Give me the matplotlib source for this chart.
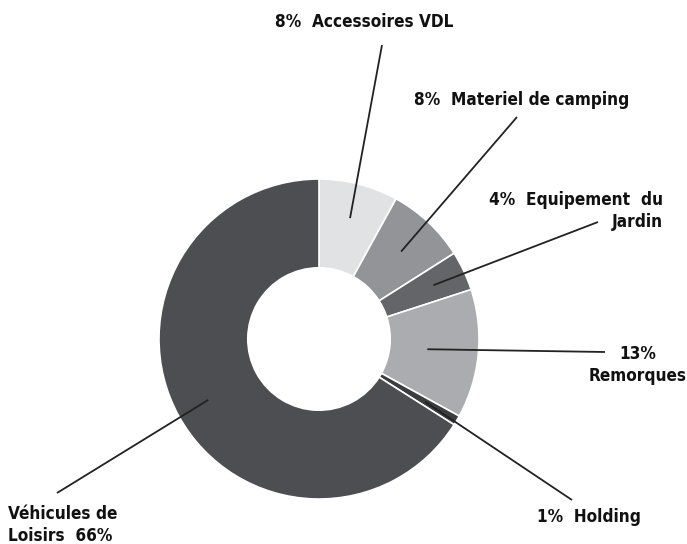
import numpy as np
import matplotlib.pyplot as plt

# Données (parts en %)
labels = ["Accessoires VDL", "Materiel de camping", "Equipement du Jardin",
          "Remorques", "Holding", "Véhicules de Loisirs"]
values = [8, 8, 4, 13, 1, 66]
colors = ["#e1e2e4", "#939497", "#646568", "#abacaf", "#3c3d40", "#4d4e52"]

# Textes affichés à côté de chaque part
texts = ["8%  Accessoires VDL", "8%  Materiel de camping", "4%  Equipement  du\nJardin",
         "13%\nRemorques", "1%  Holding", "Véhicules de\nLoisirs  66%"]

plt.rcParams['font.family'] = ['DejaVu Sans']
plt.rcParams['font.stretch'] = 'condensed'

W, H = 687, 544
fig = plt.figure(figsize=(W / 100, H / 100), dpi=100)
ax = fig.add_axes([0, 0, 1, 1])
ax.set_xlim(0, W)
ax.set_ylim(0, H)
ax.set_aspect('equal')
ax.axis('off')

cx, cy, R = 319, H - 339, 160
wedges, _ = ax.pie(values, colors=colors, startangle=90, counterclock=False,
                   center=(cx, cy), radius=R,
                   wedgeprops=dict(width=R * 0.555, edgecolor='white', linewidth=1.2))
ax.set_xlim(0, W)
ax.set_ylim(0, H)

# Position des étiquettes (départ relatif, bout de ligne, texte, alignement)
start_r = [0.78, 0.75, 0.79, 0.68, 0.77, 0.79]
ends = [(382, 45), (517, 117), (598, 222), (605, 352), (572, 500), (57, 493)]
text_pos = [(364, 22, 'center'), (522, 100, 'center'), (663, 211, 'right'),
            (638, 365, 'center'), (589, 517, 'center'), (8, 525, 'left')]

for w, fr, (ex, ey), (tx, ty, ha), t in zip(wedges, start_r, ends, text_pos, texts):
    ang = np.deg2rad((w.theta1 + w.theta2) / 2)
    sx = cx + fr * R * np.cos(ang)
    sy = cy + fr * R * np.sin(ang)
    ax.plot([sx, ex], [sy, H - ey], color='#222222', lw=1.3, solid_capstyle='butt')
    ax.text(tx, H - ty, t, ha=ha, va='center', fontsize=12.3, fontweight='bold',
            fontstretch='condensed', color='#111111', linespacing=1.3,
            multialignment=ha)

fig.savefig('out.png', dpi=100)
